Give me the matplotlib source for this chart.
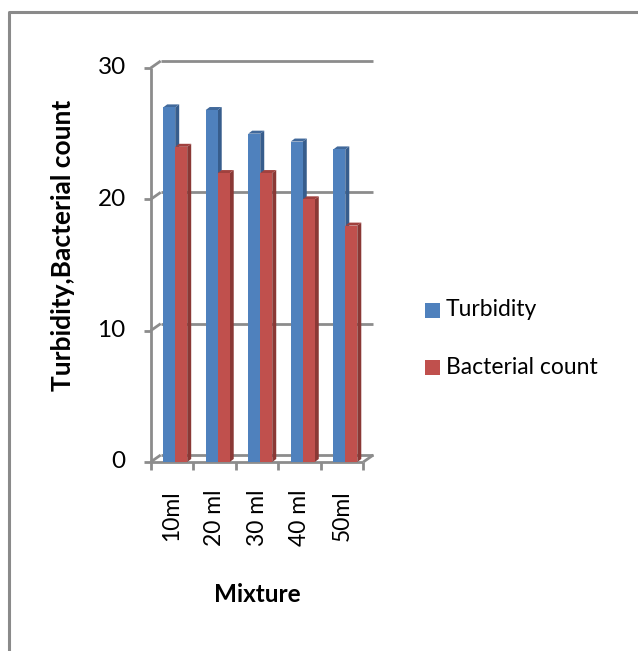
import matplotlib
matplotlib.use("Agg")
import matplotlib.pyplot as plt
from matplotlib.patches import Polygon, Rectangle
from matplotlib.lines import Line2D

# ---- data ----
categories = ["10ml", "20 ml", "30 ml", "40 ml", "50ml"]
turbidity = [27.0, 26.8, 25.0, 24.4, 23.8]
bacterial_count = [24.0, 22.0, 22.0, 20.0, 18.0]
series_names = ["Turbidity", "Bacterial count"]
y_ticks = [0, 10, 20, 30]

W, H = 638, 651
FONT = "Lato"
GRID = "#8c8c8c"

front_colors = ["#4F81BD", "#C0504D"]
side_colors = ["#375D8C", "#8A3835"]
top_colors = ["#41699B", "#A0413E"]

fig = plt.figure(figsize=(W / 100, H / 100), dpi=100)

# plot area: front plane of the 3-D box, in pixel terms
left_px, right_px = 150.7, 363.3
bottom_px, top_px = 462.0, 68.0
ax = fig.add_axes([left_px / W, 1 - bottom_px / H,
                   (right_px - left_px) / W, (bottom_px - top_px) / H])
n = len(categories)
ax.set_xlim(0, n)
ax.set_ylim(0, 30)
ax.axis("off")

px_x = (right_px - left_px) / n          # pixels per category
px_y = (bottom_px - top_px) / 30.0       # pixels per value unit

# depth offsets of the walls and of the bars
wdx, wdy = 10 / px_x, 7 / px_y
bdx, bdy = 4 / px_x, 3 / px_y

line_kw = dict(color=GRID, lw=2, clip_on=False, solid_capstyle="butt")

# side wall edge, back wall gridlines, floor
ax.plot([0, 0], [0, 30], zorder=1, **line_kw)
for yv in y_ticks:
    ax.plot([0, wdx], [yv, yv + wdy], zorder=1, **line_kw)
    ax.plot([wdx, n + wdx], [yv + wdy, yv + wdy], zorder=1, **line_kw)
    ax.plot([-7 / px_x, 0], [yv, yv], zorder=1, **line_kw)
ax.plot([0, n], [0, 0], zorder=1, **line_kw)
ax.plot([n, n + wdx], [0, wdy], zorder=1, **line_kw)
for i in range(n + 1):
    ax.plot([i, i], [0, -8 / px_y], zorder=1, **line_kw)

# y tick labels
for yv in y_ticks:
    ax.text(-25 / px_x, yv, str(yv), ha="right", va="center",
            fontsize=17.5, family=FONT, color="#000000")

# 3-D looking columns
bar_off = 12.5 / px_x
bar_w = 12 / px_x
for s, vals in enumerate([turbidity, bacterial_count]):
    for i, v in enumerate(vals):
        x0 = i + bar_off + s * bar_w
        x1 = x0 + bar_w
        z = 3 + s
        ax.add_patch(Polygon([(x1, 0), (x1 + bdx, bdy), (x1 + bdx, v + bdy), (x1, v)],
                             closed=True, facecolor=side_colors[s], edgecolor="none",
                             zorder=z, clip_on=False))
        ax.add_patch(Polygon([(x0, v), (x0 + bdx, v + bdy), (x1 + bdx, v + bdy), (x1, v)],
                             closed=True, facecolor=top_colors[s], edgecolor="none",
                             zorder=z, clip_on=False))
        ax.add_patch(Rectangle((x0, 0), bar_w, v, facecolor=front_colors[s],
                               edgecolor="none", zorder=z, clip_on=False))

# category labels
for i, lab in enumerate(categories):
    ax.text(i + 0.5, -28 / px_y, lab, rotation=90, ha="center", va="top",
            fontsize=16.5, family=FONT, color="#000000")

# axis titles
fig.text(257 / W, 1 - 595 / H, "Mixture", ha="center", va="center",
         fontsize=17.5, fontweight="bold", family=FONT)
fig.text(63 / W, 1 - 245 / H, "Turbidity,Bacterial count", ha="center", va="center",
         rotation=90, fontsize=19, fontweight="bold", family=FONT)

# legend
leg_y = [310, 367]
for s, name in enumerate(series_names):
    yc = 1 - leg_y[s] / H
    fig.patches.append(Rectangle((425 / W, yc - 7.5 / H), 15 / W, 15 / H,
                                 transform=fig.transFigure, facecolor=front_colors[s],
                                 edgecolor="none"))
    fig.text(446 / W, yc, name, ha="left", va="center", fontsize=16.5, family=FONT)

# chart area border
fig.add_artist(Line2D([8.5 / W, 8.5 / W, 1.0], [0.0, 1 - 11.5 / H, 1 - 11.5 / H],
                      transform=fig.transFigure, color="#8a8a8a", lw=2.2))

fig.savefig("out.png", dpi=100)
